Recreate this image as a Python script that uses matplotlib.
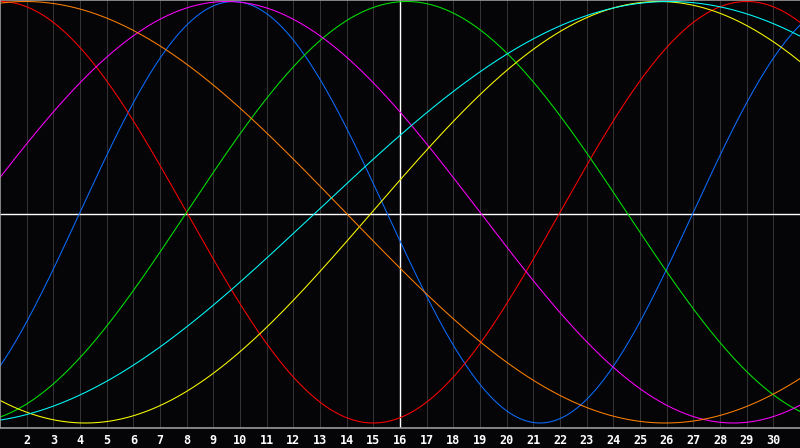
import numpy as np
import matplotlib
matplotlib.use("Agg")
import matplotlib.pyplot as plt

# biorhythm cycles: period (days) and day of the peak
cycles = ['physical', 'emotional', 'intellectual', 'intuitive', 'aesthetic', 'awareness', 'spiritual']
periods = [23, 28, 33, 38, 43, 48, 53]
peak_days = [9.75, 1.0, 16.25, 9.5, 25.7, 1.95, 26.1]
colors = ['#0a6cff', '#ff0000', '#00e600', '#ff00ff', '#ffff00', '#ff8000', '#00ffff']

days = list(range(1, 32))
tick_days = list(range(2, 31))
today = 16

fig = plt.figure(figsize=(8, 4.48), dpi=100, facecolor='#050508')
ax = fig.add_axes([0, 20 / 448, 1, 428 / 448])
ax.set_facecolor('#050508')

t = np.linspace(days[0], days[-1], 800)
for name, p, pk, c in zip(cycles, periods, peak_days, colors):
    ax.plot(t, np.cos(2 * np.pi * (t - pk) / p), color=c, lw=0.75, label=name)

for d in tick_days:
    ax.axvline(d, color='#333333', lw=0.75, zorder=0)
ax.axhline(-0.008, color='white', lw=1.0, zorder=0.5)
ax.axvline(today, color='white', lw=1.0, zorder=0.5)

ax.set_xlim(days[0], days[-1])
ax.set_ylim(-1.0237, 1.0071)

for s in ['top', 'left', 'bottom']:
    ax.spines[s].set_color('#9a9a9a')
    ax.spines[s].set_linewidth(1.2)
ax.spines['right'].set_visible(False)

ax.set_yticks([])
ax.set_xticks(tick_days)
ax.set_xticklabels([str(d) for d in tick_days], color='white',
                   fontsize=8.5, fontweight='bold', family='DejaVu Sans Mono')
ax.tick_params(axis='x', length=0, pad=4)

fig.savefig('out.png', dpi=100, facecolor=fig.get_facecolor())
